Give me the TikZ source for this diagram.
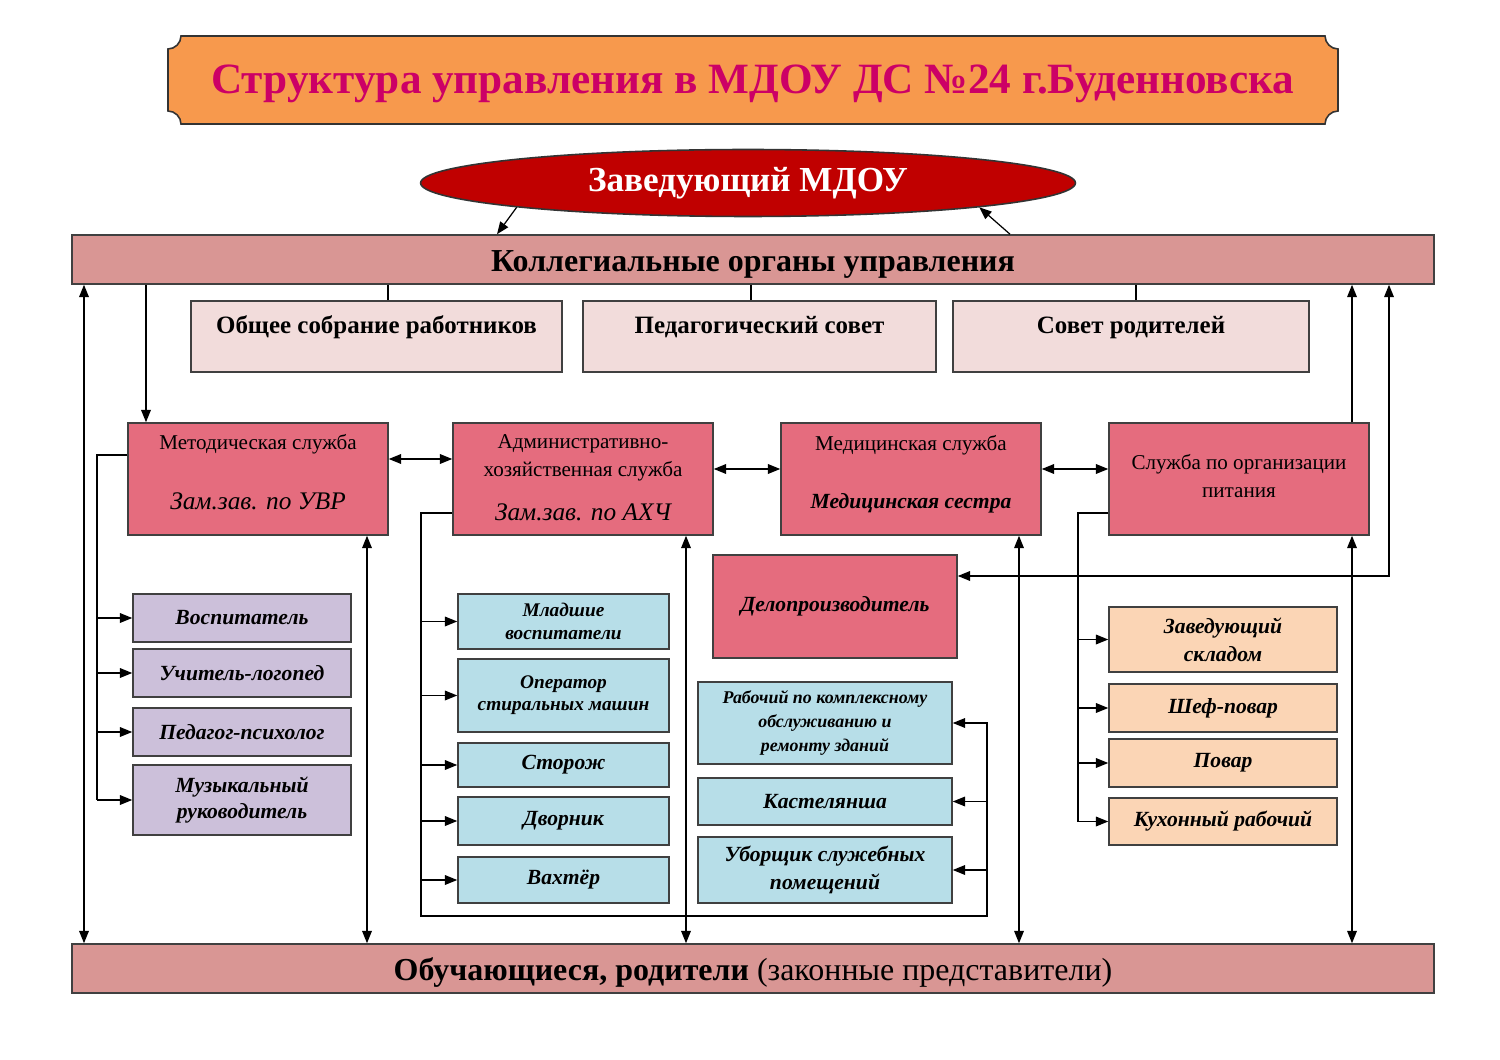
\documentclass[tikz,border=0pt]{standalone}
\usepackage{fontspec}
\setmainfont{Liberation Serif}
\usetikzlibrary{positioning}
\usetikzlibrary{arrows.meta}
\usetikzlibrary{calc}
\usetikzlibrary{shapes.geometric}

\definecolor{platefill}{RGB}{247,153,77}
\definecolor{titlecol}{RGB}{204,0,102}
\definecolor{bossfill}{RGB}{192,0,0}
\definecolor{barfill}{RGB}{217,150,148}
\definecolor{councilfill}{RGB}{242,220,219}
\definecolor{servicefill}{RGB}{229,108,126}
\definecolor{purplefill}{RGB}{204,192,218}
\definecolor{bluefill}{RGB}{183,222,232}
\definecolor{peachfill}{RGB}{251,213,181}

\begin{document}
\begin{tikzpicture}[x=0.02cm,y=-0.02cm,
    box/.style={draw=black!75,line width=0.9pt,align=center,inner sep=2pt},
    bar/.style={box,fill=barfill,minimum width=27.24cm,minimum height=0.98cm,text height=14pt,text depth=0pt,font=\bfseries\fontsize{18.2}{22}\selectfont},
    council/.style={box,fill=councilfill,minimum height=1.42cm,text height=0.59cm,text depth=0.69cm,font=\bfseries\fontsize{14.2}{17}\selectfont},
    service/.style={box,fill=servicefill,minimum width=5.2cm,minimum height=2.24cm,font=\fontsize{12}{16}\selectfont},
    dept/.style={service,text depth=8pt},
    staff/.style={box,font=\bfseries\itshape\fontsize{12.3}{15}\selectfont},
    purple/.style={staff,fill=purplefill,minimum width=4.36cm},
    blue/.style={staff,fill=bluefill,minimum width=4.22cm},
    blueright/.style={staff,fill=bluefill,minimum width=5.08cm},
    peach/.style={staff,fill=peachfill,minimum width=4.56cm},
    line/.style={line width=0.7pt},
    arr/.style={line,-{Triangle[length=7pt,width=5.5pt]}},
    both/.style={line,{Triangle[length=7pt,width=5.5pt]}-{Triangle[length=7pt,width=5.5pt]}}]

    \useasboundingbox (0,0) rectangle (1500,1060);

    \draw[fill=platefill,draw=black!80,line width=0.9pt]
        (181,36) -- (1325,36) .. controls (1325,43) and (1331,49) .. (1338,49)
        -- (1338,111) .. controls (1331,111) and (1325,117) .. (1325,124)
        -- (181,124) .. controls (181,117) and (175,111) .. (168,111)
        -- (168,49) .. controls (175,49) and (181,43) .. (181,36) -- cycle;
    \node[text=titlecol,font=\bfseries\fontsize{24.6}{30}\selectfont] (title) at (753,84) {Структура управления в МДОУ ДС №24 г.Буденновска};

    \node[ellipse,draw=black!80,line width=0.9pt,fill=bossfill,minimum width=13.1cm,minimum height=1.34cm,text=white,font=\bfseries\fontsize{20}{24}\selectfont] (boss) at (748,183) {Заведующий МДОУ};

    \node[bar] (kolleg) at (753,259.5) {Коллегиальные органы управления};
    \node[council,minimum width=7.42cm] (obsch) at (376.5,336.5) {Общее собрание работников};
    \node[council,minimum width=7.06cm] (pedsov) at (759.5,336.5) {Педагогический совет};
    \node[council,minimum width=7.12cm] (sovrod) at (1131,336.5) {Совет родителей};

    \node[dept] (metod) at (258,479) {Методическая служба\\[18pt]{\itshape\fontsize{14.4}{16}\selectfont Зам.зав. по УВР}};
    \node[dept,text depth=1.5pt] (admin) at (583,479) {Административно-\\хозяйственная служба\\[9pt]{\itshape\fontsize{14.4}{16}\selectfont Зам.зав. по АХЧ}};
    \node[dept] (med) at (911,479) {Медицинская служба\\[17pt]{\bfseries\itshape\fontsize{12.3}{14}\selectfont Медицинская сестра}};
    \node[dept,text depth=3.5pt] (pitan) at (1239,479) {Служба по организации\\питания};
    \node[service,minimum width=4.88cm,minimum height=2.06cm,font=\bfseries\itshape\fontsize{12.3}{14}\selectfont] (delopr) at (835,606.5) {Делопроизводитель};

    \node[purple,minimum height=0.96cm] (vosp) at (242,618) {Воспитатель};
    \node[purple,minimum height=0.96cm] (logo) at (242,673) {Учитель-логопед};
    \node[purple,minimum height=0.96cm] (psih) at (242,732) {Педагог-психолог};
    \node[purple,minimum height=1.4cm] (muz) at (242,800) {Музыкальный\\руководитель};

    \node[blue,minimum height=1.1cm,font=\bfseries\itshape\fontsize{11}{13}\selectfont] (mlad) at (563.5,621.5) {Младшие\\воспитатели};
    \node[blue,minimum height=1.46cm,font=\bfseries\itshape\fontsize{11}{12.5}\selectfont] (oper) at (563.5,695.5) {Оператор\\стиральных машин};
    \node[blue,minimum height=0.88cm] (stor) at (563.5,765) {Сторож};
    \node[blue,minimum height=0.96cm] (dvor) at (563.5,821) {Дворник};
    \node[blue,minimum height=0.92cm] (vaht) at (563.5,880) {Вахтёр};

    \node[blueright,minimum height=1.64cm,font=\bfseries\itshape\fontsize{10.2}{13.5}\selectfont] (rabo) at (825,723) {Рабочий по комплексному\\обслуживанию и\\ремонту зданий};
    \node[blueright,minimum height=0.94cm] (kast) at (825,801.5) {Кастелянша};
    \node[blueright,minimum height=1.32cm,font=\bfseries\itshape\fontsize{12.3}{16}\selectfont] (ubor) at (825,870) {Уборщик служебных\\помещений};

    \node[peach,minimum height=1.3cm,font=\bfseries\itshape\fontsize{12.3}{16}\selectfont] (zavsk) at (1223,639.5) {Заведующий\\складом};
    \node[peach,minimum height=0.96cm] (shef) at (1223,708) {Шеф-повар};
    \node[peach,minimum height=0.96cm] (povar) at (1223,763) {Повар};
    \node[peach,minimum height=0.94cm] (kuhn) at (1223,821.5) {Кухонный рабочий};

    \node[bar] (pupils) at (753,968.5) {Обучающиеся, родители {\mdseries (законные представители)}};

    \draw[arr] (boss.186) -- (kolleg.north -| 497,0);
    \draw[arr] (kolleg.north -| 1010,0) -- (boss.354);

    \draw[line] (kolleg.south -| 388,0) -- (obsch.north -| 388,0);
    \draw[line] (kolleg.south -| 751,0) -- (pedsov.north -| 751,0);
    \draw[line] (kolleg.south -| 1136,0) -- (sovrod.north -| 1136,0);

    \draw[both] (metod.east |- 0,459) -- (admin.west |- 0,459);
    \draw[both] (admin.east |- 0,469) -- (med.west |- 0,469);
    \draw[both] (med.east |- 0,469) -- (pitan.west |- 0,469);

    \draw[both] (kolleg.south -| 84,0) -- (pupils.north -| 84,0);
    \draw[arr] (kolleg.south -| 146,0) -- (metod.north -| 146,0);
    \draw[both] (metod.south -| 367,0) -- (pupils.north -| 367,0);
    \draw[both] (admin.south -| 686,0) -- (pupils.north -| 686,0);
    \draw[both] (med.south -| 1019,0) -- (pupils.north -| 1019,0);
    \draw[both] (pitan.south -| 1352,0) -- (pupils.north -| 1352,0);
    \draw[arr] (pitan.north -| 1352,0) -- (kolleg.south -| 1352,0);
    \draw[both] (kolleg.south -| 1389,0) |- (delopr.east |- 0,576);

    \coordinate (mspine) at (97,455);
    \draw[line] (metod.west |- mspine) -- (mspine) -- (mspine |- muz.west);
    \foreach \b in {vosp,logo,psih,muz}
        \draw[arr] (mspine |- \b.west) -- (\b.west);

    \coordinate (aspine) at (421,513);
    \coordinate (abottom) at (421,916);
    \coordinate (rspine) at (987,722);
    \draw[line] (admin.west |- aspine) -- (aspine) -- (abottom) -| (rspine);
    \foreach \b in {mlad,oper,stor,dvor,vaht}
        \draw[arr] (aspine |- \b.west) -- (\b.west);
    \foreach \b in {rabo,kast,ubor}
        \draw[arr] (rspine |- \b.east) -- (\b.east);

    \coordinate (pspine) at (1078,513);
    \draw[line] (pitan.west |- pspine) -- (pspine) -- (pspine |- kuhn.west);
    \foreach \b in {zavsk,shef,povar,kuhn}
        \draw[arr] (pspine |- \b.west) -- (\b.west);
\end{tikzpicture}
\end{document}
